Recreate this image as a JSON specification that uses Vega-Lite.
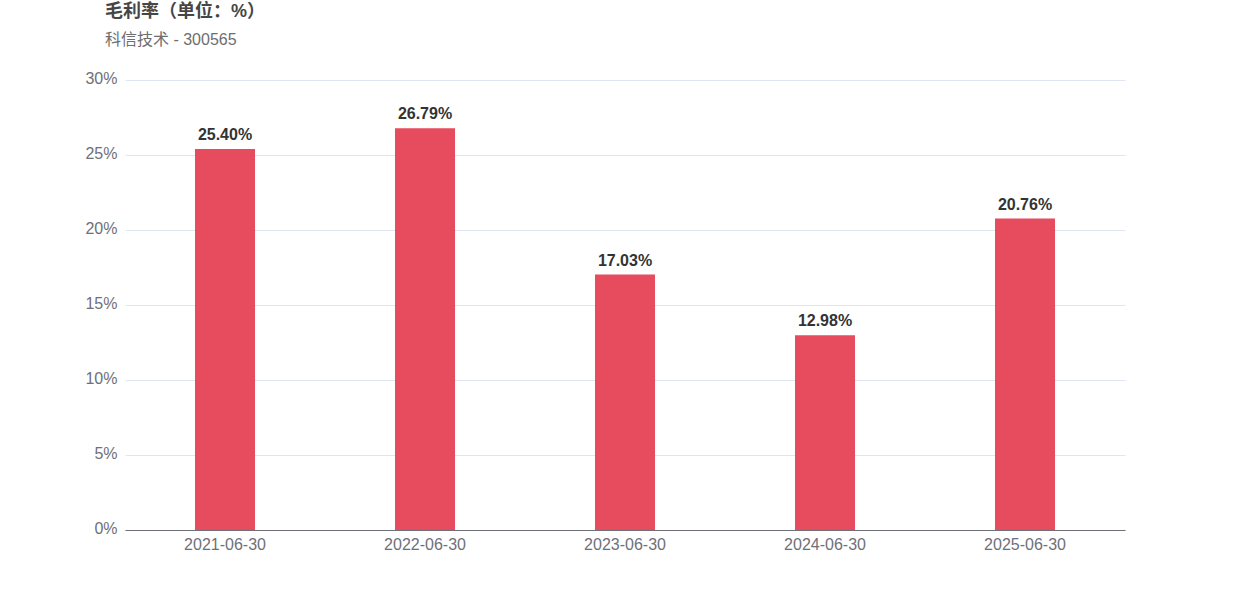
{
  "$schema": "https://vega.github.io/schema/vega-lite/v6.json",
  "width": 1000,
  "height": 450,
  "autosize": "none",
  "padding": {"left": 125, "top": 80, "right": 125, "bottom": 70},
  "background": "#ffffff",
  "title": {
    "text": "毛利率（单位：%）",
    "subtitle": "科信技术 - 300565",
    "anchor": "start",
    "frame": "group",
    "dx": -20,
    "offset": 22,
    "font": "Liberation Sans, Noto Sans CJK SC",
    "fontSize": 18,
    "fontWeight": "bold",
    "color": "#464646",
    "subtitleFont": "Liberation Sans, Noto Sans CJK SC",
    "subtitleFontSize": 16,
    "subtitleColor": "#6e6e6e",
    "subtitlePadding": 11
  },
  "config": {
    "view": {"stroke": null},
    "font": "Liberation Sans, Noto Sans CJK SC"
  },
  "data": {
    "values": [
      {"date": "2021-06-30", "value": 25.40},
      {"date": "2022-06-30", "value": 26.79},
      {"date": "2023-06-30", "value": 17.03},
      {"date": "2024-06-30", "value": 12.98},
      {"date": "2025-06-30", "value": 20.76}
    ]
  },
  "encoding": {
    "x": {
      "field": "date",
      "type": "nominal",
      "sort": null,
      "scale": {"paddingInner": 0.7, "paddingOuter": 0.35},
      "axis": {
        "title": null,
        "labelAngle": 0,
        "labelFontSize": 16,
        "labelColor": "#6e7079",
        "labelPadding": 6,
        "ticks": false,
        "domainColor": "#6e7079",
        "domainWidth": 1
      }
    },
    "y": {
      "field": "value",
      "type": "quantitative",
      "scale": {"domain": [0, 30], "nice": false},
      "axis": {
        "title": null,
        "values": [0, 5, 10, 15, 20, 25, 30],
        "labelExpr": "datum.value + '%'",
        "labelFontSize": 16,
        "labelColor": "#6e7079",
        "labelPadding": 8,
        "labelOffset": -2,
        "ticks": false,
        "domain": false,
        "gridColor": "#e0e6f1",
        "gridWidth": 1
      }
    }
  },
  "layer": [
    {"mark": {"type": "bar", "color": "#e64b5e"}},
    {
      "transform": [{"calculate": "format(datum.value, '.2f') + '%'", "as": "label"}],
      "mark": {"type": "text", "baseline": "alphabetic", "dy": -9, "fontSize": 16, "fontWeight": "bold", "color": "#333333"},
      "encoding": {"text": {"field": "label", "type": "nominal"}}
    }
  ]
}
